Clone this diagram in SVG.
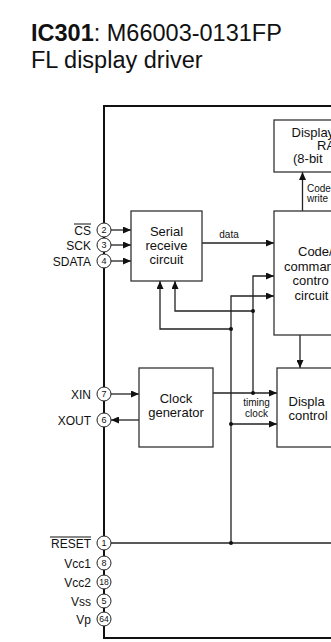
<svg xmlns="http://www.w3.org/2000/svg" width="331" height="642" viewBox="0 0 331 642">
<defs>
<marker id="ah" markerWidth="8" markerHeight="7" refX="8" refY="3.5" orient="auto" markerUnits="userSpaceOnUse"><path d="M0,0 L8,3.5 L0,7 z" fill="#111"/></marker>
<style>
text{font-family:"Liberation Sans",Arial,sans-serif;fill:#111}
.box{fill:#fff;stroke:#333;stroke-width:1.3}
.frame{fill:none;stroke:#111;stroke-width:2}
.w{fill:none;stroke:#222;stroke-width:1.3}
.a{marker-end:url(#ah)}
.pin{fill:#fff;stroke:#222;stroke-width:1}
.pn{font-size:9px;text-anchor:middle}
.pl{font-size:12px;text-anchor:end}
.bt{font-size:13px;text-anchor:middle}
.bs{font-size:13px}
.sm{font-size:10px}
.dot{fill:#111}
</style>
</defs>
<rect width="331" height="642" fill="#fff"/>
<g id="title">
<text x="31" y="41" font-size="23.5"><tspan font-weight="bold">IC301</tspan>: M66003-0131FP</text>
<text x="31" y="68" font-size="23.5">FL display driver</text>
</g>
<g id="frame"><path class="frame" d="M331,106 H104 V638 H331"/></g>
<g id="connectors">
<line class="w a" x1="111" y1="230" x2="131" y2="230"/>
<line class="w a" x1="111" y1="245" x2="131" y2="245"/>
<line class="w a" x1="111" y1="261" x2="131" y2="261"/>
<line class="w a" x1="202" y1="243" x2="274" y2="243"/>
<line class="w a" x1="302.5" y1="211" x2="302.5" y2="172"/>
<path class="w a" d="M231,543 V296 H274"/>
<path class="w a" d="M253,393 V276 H274"/>
<path class="w a" d="M253,311 H175 V281"/>
<path class="w a" d="M231,329 H160 V281"/>
<line class="w a" x1="300" y1="335" x2="300" y2="368"/>
<line class="w a" x1="213" y1="393" x2="277" y2="393"/>
<line class="w a" x1="231" y1="424" x2="277" y2="424"/>
<line class="w a" x1="111" y1="394" x2="139" y2="394"/>
<line class="w a" x1="139" y1="420" x2="111" y2="420"/>
<line class="w" x1="111" y1="543" x2="331" y2="543"/>
<circle class="dot" cx="253" cy="311" r="2"/>
<circle class="dot" cx="231" cy="329" r="2"/>
<circle class="dot" cx="253" cy="393" r="2"/>
<circle class="dot" cx="231" cy="424" r="2"/>
<circle class="dot" cx="231" cy="543" r="2"/>
<text class="sm" x="229" y="238" text-anchor="middle">data</text>
<text class="sm" x="307" y="192">Code</text>
<text class="sm" x="307" y="202">write</text>
<text class="sm" x="256.5" y="406" text-anchor="middle">timing</text>
<text class="sm" x="256.5" y="417" text-anchor="middle">clock</text>
</g>
<g id="ram">
<rect class="box" x="274" y="120" width="100" height="52"/>
<text class="bs" x="291.5" y="137">Display</text>
<text class="bs" x="317" y="150">RA</text>
<text class="bs" x="293" y="163">(8-bit</text>
</g>
<g id="code">
<rect class="box" x="274" y="211" width="100" height="124"/>
<text class="bs" x="298" y="256">Code/</text>
<text class="bs" x="284" y="270.5" font-size="12.6">comman</text>
<text class="bs" x="292.5" y="285">contro</text>
<text class="bs" x="294.5" y="299.5">circuit</text>
</g>
<g id="serial">
<rect class="box" x="131" y="211" width="71" height="70"/>
<text class="bt" x="166.5" y="236">Serial</text>
<text class="bt" x="166.5" y="250">receive</text>
<text class="bt" x="166.5" y="264">circuit</text>
</g>
<g id="clock">
<rect class="box" x="139" y="368" width="74" height="79"/>
<text class="bt" x="176" y="402.5">Clock</text>
<text class="bt" x="176" y="417">generator</text>
</g>
<g id="dispctrl">
<rect class="box" x="277" y="368" width="100" height="79"/>
<text class="bs" x="288.5" y="405.5">Displa</text>
<text class="bs" x="288.5" y="419.5">control</text>
</g>
<g id="pin-cs"><circle class="pin" cx="104" cy="230" r="7"/><text class="pn" x="104" y="233.2">2</text><text class="pl" x="91" y="234.5">CS</text><line x1="74" y1="224" x2="91" y2="224" stroke="#111" stroke-width="1"/></g>
<g id="pin-sck"><circle class="pin" cx="104" cy="245" r="7"/><text class="pn" x="104" y="248.2">3</text><text class="pl" x="91" y="249.5">SCK</text></g>
<g id="pin-sdata"><circle class="pin" cx="104" cy="261" r="7"/><text class="pn" x="104" y="264.2">4</text><text class="pl" x="91" y="265.5">SDATA</text></g>
<g id="pin-xin"><circle class="pin" cx="104" cy="394" r="7"/><text class="pn" x="104" y="397.2">7</text><text class="pl" x="91" y="398.5">XIN</text></g>
<g id="pin-xout"><circle class="pin" cx="104" cy="420" r="7"/><text class="pn" x="104" y="423.2">6</text><text class="pl" x="91" y="424.5">XOUT</text></g>
<g id="pin-reset"><circle class="pin" cx="104" cy="543" r="7"/><text class="pn" x="104" y="546.2">1</text><text class="pl" x="91" y="547.5">RESET</text><line x1="50" y1="537" x2="91" y2="537" stroke="#111" stroke-width="1"/></g>
<g id="pin-vcc1"><circle class="pin" cx="104" cy="563" r="7"/><text class="pn" x="104" y="566.2">8</text><text class="pl" x="91" y="567.5">Vcc1</text></g>
<g id="pin-vcc2"><circle class="pin" cx="104" cy="582" r="7"/><text class="pn" x="104" y="585.2" textLength="9.5" lengthAdjust="spacingAndGlyphs">18</text><text class="pl" x="91" y="586.5">Vcc2</text></g>
<g id="pin-vss"><circle class="pin" cx="104" cy="601" r="7"/><text class="pn" x="104" y="604.2">5</text><text class="pl" x="91" y="605.5">Vss</text></g>
<g id="pin-vp"><circle class="pin" cx="104" cy="619" r="7"/><text class="pn" x="104" y="622.2" textLength="9.5" lengthAdjust="spacingAndGlyphs">64</text><text class="pl" x="91" y="623.5">Vp</text></g>
</svg>
